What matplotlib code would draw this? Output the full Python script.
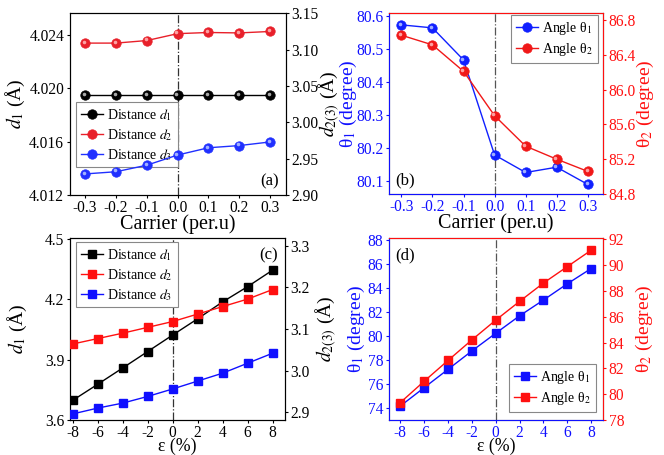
import matplotlib
matplotlib.use("Agg")
import matplotlib.pyplot as plt
from matplotlib import transforms

plt.rcParams['font.family'] = ['Liberation Serif', 'DejaVu Serif']
plt.rcParams['mathtext.fontset'] = 'stix'
plt.rcParams['axes.unicode_minus'] = False

# ---------------- data ----------------
carrier = [-0.3, -0.2, -0.1, 0.0, 0.1, 0.2, 0.3]
a_d1 = [4.0195, 4.0195, 4.0195, 4.0195, 4.0195, 4.0195, 4.0195]
a_d2 = [3.109, 3.109, 3.1125, 3.122, 3.1236, 3.123, 3.125]
a_d3 = [2.929, 2.932, 2.941, 2.955, 2.965, 2.968, 2.973]

b_t1 = [80.572, 80.563, 80.466, 80.179, 80.126, 80.142, 80.090]
b_t2 = [86.625, 86.514, 86.21, 85.70, 85.35, 85.20, 85.06]

strain = [-8, -6, -4, -2, 0, 2, 4, 6, 8]
c_d1 = [3.697, 3.777, 3.858, 3.940, 4.022, 4.103, 4.187, 4.263, 4.345]
c_d2 = [3.064, 3.077, 3.090, 3.104, 3.118, 3.136, 3.154, 3.172, 3.195]
c_d3 = [2.896, 2.910, 2.922, 2.938, 2.956, 2.975, 2.994, 3.018, 3.042]

d_t1 = [74.19, 75.72, 77.24, 78.77, 80.24, 81.69, 83.00, 84.35, 85.62]
d_t2 = [79.35, 81.00, 82.61, 84.20, 85.73, 87.18, 88.60, 89.87, 91.14]

carrier_ticks = [-0.3, -0.2, -0.1, 0.0, 0.1, 0.2, 0.3]
carrier_labels = ['-0.3', '-0.2', '-0.1', '0.0', '0.1', '0.2', '0.3']
strain_ticks = [-8, -6, -4, -2, 0, 2, 4, 6, 8]

BLUE = '#1010ff'
RED = '#ff1010'
BLACK = '#000000'

W, H = 664, 455
fig = plt.figure(figsize=(W / 100, H / 100), dpi=100)


def rect(l, t, r, b):
    return [l / W, 1 - b / H, (r - l) / W, (b - t) / H]


axA = fig.add_axes(rect(69.7, 13.3, 285.5, 195))
axB = fig.add_axes(rect(389, 13.3, 603.3, 194))
axC = fig.add_axes(rect(70, 238.3, 284.7, 420))
axD = fig.add_axes(rect(389, 238.3, 603.3, 420))

TICK = 11.2
LAB = 14


def style(ax, color='k', labelcolor='k'):
    ax.tick_params(direction='out', length=2.5, width=0.8, labelsize=TICK,
                   colors=color, labelcolor=labelcolor, pad=1.5)
    ax.tick_params(axis='x', pad=1.0)


def sphere(ax, x, y, color, light, label, ms=6.8):
    ln, = ax.plot(x, y, '-', color=color, lw=1.0, marker='o', ms=ms,
                  mfc=color, mec=color, mew=0.5, label=label, zorder=3)
    off = transforms.offset_copy(ax.transData, fig=fig, x=-0.9, y=0.9,
                                 units='points')
    ax.plot(x, y, 'o', ms=ms * 0.38, mfc=light, mec='none', alpha=0.9,
            transform=off, zorder=4)
    return ln


def square(ax, x, y, color, label, ms=5.5):
    ln, = ax.plot(x, y, '-', color=color, lw=1.0, marker='s', ms=ms,
                  mfc=color, mec=color, label=label, zorder=3)
    return ln


def leg(ax, handles, loc, anchor):
    lg = ax.legend(handles=handles, loc=loc, bbox_to_anchor=anchor,
                   borderaxespad=0, fontsize=10, handlelength=1.6,
                   handletextpad=0.3, labelspacing=0.3, borderpad=0.35,
                   fancybox=False, framealpha=1, edgecolor='#888888')
    lg.get_frame().set_linewidth(0.8)
    return lg


def ylab(ax, text, xpos, color='k'):
    ax.set_ylabel(text, fontsize=LAB, color=color, va='center', ha='center',
                  rotation=90)
    ax.yaxis.set_label_coords(xpos, 0.5)


def eps_label(ax):
    ax.set_xlabel('ε (%)', fontsize=12.8, va='center')
    ax.xaxis.set_label_coords(0.5, -0.145)


# ---------------- (a) ----------------
axA2 = axA.twinx()
h1 = sphere(axA, carrier, a_d1, BLACK, '#bbbbbb', r'Distance $d_1$')
h2 = sphere(axA2, carrier, a_d2, '#e8202a', '#ffb0b0', r'Distance $d_2$')
h3 = sphere(axA2, carrier, a_d3, '#2030ff', '#b0c0ff', r'Distance $d_3$')
axA.set_xlim(-0.35, 0.35)
axA.set_ylim(4.012, 4.0256)
axA.set_yticks([4.012, 4.016, 4.020, 4.024])
axA.set_yticklabels(['4.012', '4.016', '4.020', '4.024'])
axA2.set_ylim(2.90, 3.15)
axA2.set_yticks([2.90, 2.95, 3.00, 3.05, 3.10, 3.15])
axA2.set_yticklabels(['2.90', '2.95', '3.00', '3.05', '3.10', '3.15'])
axA.set_xticks(carrier_ticks)
axA.set_xticklabels(carrier_labels)
axA.axvline(0, color='#333333', lw=0.9, ls='-.', zorder=1)
ylab(axA, r'$d_1$ (Å)', -0.252)
ylab(axA2, r'$d_{2(3)}$ (Å)', 1.203)
axA.set_xlabel('Carrier (per.u)', fontsize=14.5, labelpad=-1)
style(axA)
style(axA2)
leg(axA, [h1, h2, h3], 'upper left', (0.029, 0.512))
axA.text(0.97, 0.03, '(a)', transform=axA.transAxes, ha='right',
         va='bottom', fontsize=12)

# ---------------- (b) ----------------
axB2 = axB.twinx()
g1 = sphere(axB, carrier, b_t1, '#1020ff', '#b0c0ff', r'Angle θ$_1$')
g2 = sphere(axB2, carrier, b_t2, '#f01818', '#ffb0b0', r'Angle θ$_2$')
axB.set_xlim(-0.34, 0.35)
axB.set_ylim(80.061, 80.607)
axB.set_yticks([80.1, 80.2, 80.3, 80.4, 80.5, 80.6])
axB2.set_ylim(84.8, 86.877)
axB2.set_yticks([84.8, 85.2, 85.6, 86.0, 86.4, 86.8])
axB.set_xticks(carrier_ticks)
axB.set_xticklabels(carrier_labels)
axB.axvline(0, color='#555555', lw=0.9, ls='-.', zorder=1)
ylab(axB, r'θ$_1$ (degree)', -0.19, BLUE)
ylab(axB2, r'θ$_2$ (degree)', 1.195, RED)
axB.set_xlabel('Carrier (per.u)', fontsize=14.5, labelpad=-1)
style(axB, BLUE, BLUE)
style(axB2, RED, RED)
for s in ('left', 'bottom'):
    axB2.spines[s].set_color(BLUE)
for s in ('right', 'top'):
    axB2.spines[s].set_color(RED)
leg(axB2, [g1, g2], 'upper right', (0.975, 0.99))
axB.text(0.03, 0.03, '(b)', transform=axB.transAxes, ha='left',
         va='bottom', fontsize=12)

# ---------------- (c) ----------------
axC2 = axC.twinx()
k1 = square(axC, strain, c_d1, BLACK, r'Distance $d_1$')
k2 = square(axC2, strain, c_d2, '#ff1010', r'Distance $d_2$')
k3 = square(axC2, strain, c_d3, '#1010ff', r'Distance $d_3$')
axC.set_xlim(-8.2, 8.96)
axC.set_ylim(3.6, 4.503)
axC.set_yticks([3.6, 3.9, 4.2, 4.5])
axC2.set_ylim(2.8815, 3.318)
axC2.set_yticks([2.9, 3.0, 3.1, 3.2, 3.3])
axC.set_xticks(strain_ticks)
axC.axvline(0, color='#333333', lw=0.9, ls='-.', zorder=1)
ylab(axC, r'$d_1$ (Å)', -0.245)
ylab(axC2, r'$d_{2(3)}$ (Å)', 1.195)
eps_label(axC)
style(axC)
style(axC2)
leg(axC2, [k1, k2, k3], 'upper left', (0.028, 0.98))
axC.text(0.97, 0.95, '(c)', transform=axC.transAxes, ha='right',
         va='top', fontsize=12)

# ---------------- (d) ----------------
axD2 = axD.twinx()
m1 = square(axD, strain, d_t1, '#1010ff', r'Angle θ$_1$')
m2 = square(axD2, strain, d_t2, '#ff1010', r'Angle θ$_2$')
axD.set_xlim(-8.95, 9.03)
axD.set_ylim(73.03, 88.14)
axD.set_yticks([74, 76, 78, 80, 82, 84, 86, 88])
axD2.set_ylim(78, 92.07)
axD2.set_yticks([78, 80, 82, 84, 86, 88, 90, 92])
axD.set_xticks(strain_ticks)
axD.axvline(0, color='#555555', lw=0.9, ls='-.', zorder=1)
ylab(axD, r'θ$_1$ (degree)', -0.15, BLUE)
ylab(axD2, r'θ$_2$ (degree)', 1.19, RED)
eps_label(axD)
style(axD, BLUE, BLUE)
style(axD2, RED, RED)
for s in ('left', 'bottom'):
    axD2.spines[s].set_color(BLUE)
for s in ('right', 'top'):
    axD2.spines[s].set_color(RED)
leg(axD2, [m1, m2], 'lower right', (0.966, 0.044))
axD.text(0.03, 0.95, '(d)', transform=axD.transAxes, ha='left',
         va='top', fontsize=12)

fig.savefig('out.png', dpi=100)
